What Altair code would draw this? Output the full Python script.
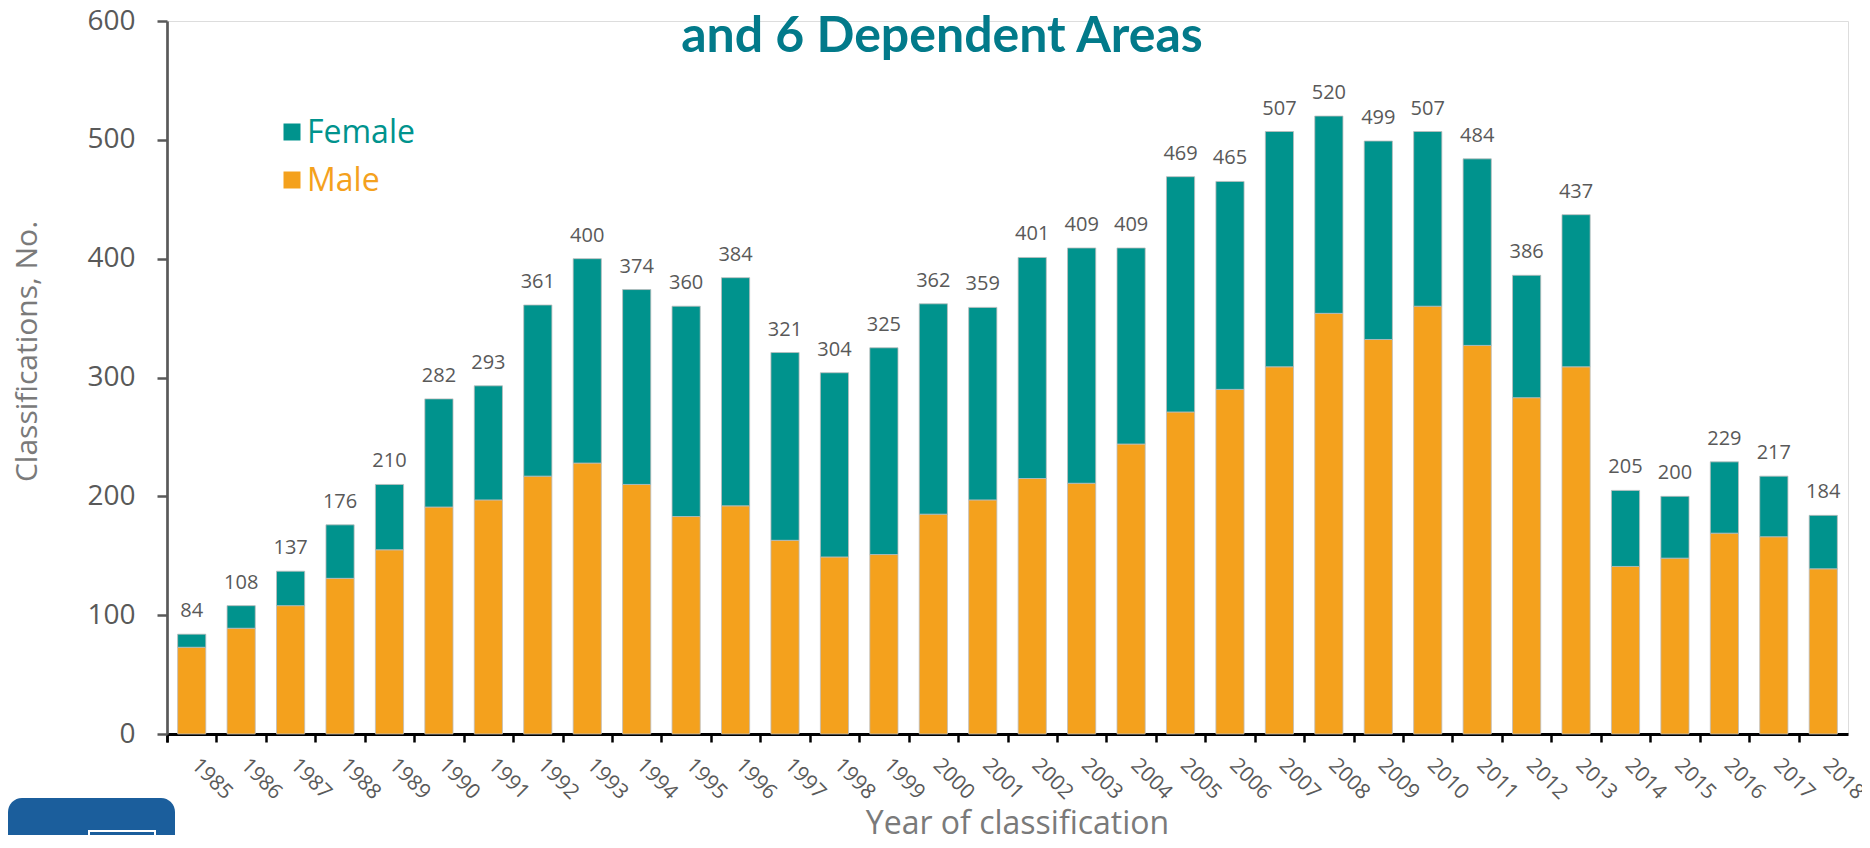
import altair as alt
import pandas as pd

# ---- data ----
years = [str(y) for y in range(1985, 2019)]
total = [84, 108, 137, 176, 210, 282, 293, 361, 400, 374, 360, 384, 321, 304, 325,
         362, 359, 401, 409, 409, 469, 465, 507, 520, 499, 507, 484, 386, 437,
         205, 200, 229, 217, 184]
male = [73, 89, 108, 131, 155, 191, 197, 217, 228, 210, 183, 192, 163, 149, 151,
        185, 197, 215, 211, 244, 271, 290, 309, 354, 332, 360, 327, 283, 309,
        141, 148, 169, 166, 139]
female = [t - m for t, m in zip(total, male)]
series = ["Female", "Male"]
y_ticks = [0, 100, 200, 300, 400, 500, 600]

TEAL = "#00938D"
ORANGE = "#F4A11D"
GRAY = "#595959"
TITLE_GRAY = "#7a7a7a"

long_df = pd.DataFrame({
    "year": years * 2,
    "sex": ["Male"] * len(years) + ["Female"] * len(years),
    "count": male + female,
    "order": [0] * len(years) + [1] * len(years),
})
tot_df = pd.DataFrame({"year": years, "total": total})

PAD_INNER = 0.43
PLOT_W = 1681
STEP = PLOT_W / len(years)
GAP_HALF = PAD_INNER * STEP / 2

x_scale = alt.Scale(paddingInner=PAD_INNER, paddingOuter=PAD_INNER / 2)

x_axis = alt.Axis(
    labelAngle=45, labelAlign="left", labelBaseline="top",
    labelFont="Open Sans", labelFontSize=21, labelColor=GRAY,
    labelPadding=12, labelOffset=21, labelOverlap=False,
    bandPosition=0, tickExtra=True, tickOffset=-GAP_HALF,
    tickSize=8, tickWidth=2.5,
    tickColor="#000000", domainColor="#000000", domainWidth=3, grid=False,
    title="Year of classification", titleFont="Open Sans", titleFontSize=32,
    titleFontWeight="normal", titleColor=TITLE_GRAY,
    titleX=850, titleY=99, titleAlign="center", titleBaseline="alphabetic",
)

y_axis = alt.Axis(
    values=y_ticks, labelFont="Open Sans", labelFontSize=28, labelColor=GRAY,
    labelPadding=22, tickSize=10, tickWidth=2.5, tickColor=GRAY,
    domainColor=GRAY, domainWidth=2.7, grid=False,
    title="Classifications, No.", titleFont="Open Sans", titleFontSize=30,
    titleFontWeight="normal", titleColor=TITLE_GRAY, titleAngle=-90,
    titleX=-140, titleY=330, titleAlign="center", titleBaseline="middle",
)

bars = alt.Chart(long_df).mark_bar(stroke="#bdbdbd", strokeWidth=0.8).encode(
    x=alt.X("year:N", sort=years, scale=x_scale, axis=x_axis),
    y=alt.Y("count:Q", stack="zero", scale=alt.Scale(domain=[0, 600], nice=False), axis=y_axis),
    color=alt.Color("sex:N", scale=alt.Scale(domain=series, range=[TEAL, ORANGE]), legend=None),
    order=alt.Order("order:Q", sort="ascending"),
)

labels = alt.Chart(tot_df).mark_text(
    font="Open Sans", fontSize=20, color=GRAY, baseline="alphabetic", dy=-17
).encode(
    x=alt.X("year:N", sort=years),
    y=alt.Y("total:Q"),
    text=alt.Text("total:Q"),
)

title_df = pd.DataFrame({"t": ["and 6 Dependent Areas"]})
title = alt.Chart(title_df).mark_text(
    font="Lato", fontWeight="bold", fontSize=50, color="#027A8A",
    align="center", baseline="alphabetic"
).encode(x=alt.value(775), y=alt.value(31), text="t:N")

# legend (manual, coloured labels)
leg_f = pd.DataFrame({"s": ["Female"]})
leg_m = pd.DataFrame({"s": ["Male"]})
sq_f = alt.Chart(leg_f).mark_square(size=289, opacity=1, color=TEAL).encode(
    x=alt.value(125), y=alt.value(111))
sq_m = alt.Chart(leg_m).mark_square(size=289, opacity=1, color=ORANGE).encode(
    x=alt.value(125), y=alt.value(159))
tx_f = alt.Chart(leg_f).mark_text(font="Open Sans", fontSize=32, color=TEAL,
                                  align="left", baseline="alphabetic").encode(
    x=alt.value(140), y=alt.value(122), text="s:N")
tx_m = alt.Chart(leg_m).mark_text(font="Open Sans", fontSize=32, color=ORANGE,
                                  align="left", baseline="alphabetic").encode(
    x=alt.value(140), y=alt.value(170), text="s:N")

# CDC logo block (partially visible at bottom-left)
logo_df = pd.DataFrame({"k": ["logo"]})
logo = alt.Chart(logo_df).mark_rect(color="#1B5E9C", cornerRadius=14).encode(
    x=alt.value(-159), x2=alt.value(8), y=alt.value(777), y2=alt.value(840))
logo_box = alt.Chart(logo_df).mark_rect(fill="#1B5E9C", stroke="white", strokeWidth=2).encode(
    x=alt.value(-78), x2=alt.value(-12), y=alt.value(810), y2=alt.value(840))

chart = alt.layer(bars, labels, title, sq_f, sq_m, tx_f, tx_m, logo, logo_box).properties(
    width=PLOT_W, height=713,
    autosize=alt.AutoSizeParams(type="none"),
    padding={"left": 159, "top": 13, "right": 14, "bottom": 101},
).configure_view(stroke=None).configure(background="white")

chart.save("out.html", embed_options={"renderer": "svg", "actions": False})
